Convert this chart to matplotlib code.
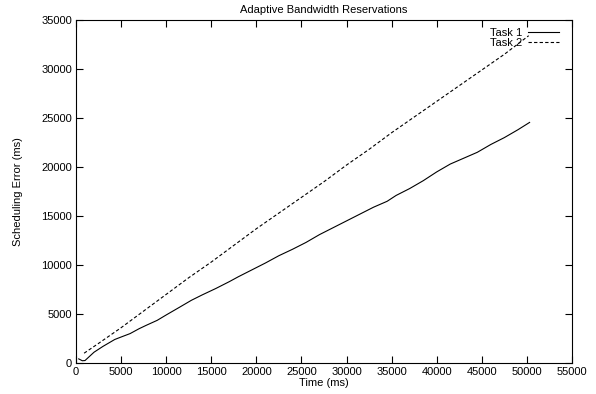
import matplotlib
matplotlib.use('Agg')
import matplotlib.pyplot as plt

plt.rcParams.update({
    'font.family': 'Liberation Sans',
    'font.size': 8,
    'axes.linewidth': 0.8,
})

# Task 1 (solid)
t1_time = [300, 700, 1000, 2000, 3000, 4300, 5000, 6000, 7000, 7800, 9000,
           10000, 11500, 12800, 14000, 15500, 17000, 18000, 19500, 21000,
           22500, 24000, 25500, 27000, 28500, 30000, 31500, 33000, 34500,
           35500, 37000, 38500, 40000, 41500, 43000, 44500, 46000, 47500,
           49000, 50300]
t1_err = [420, 230, 250, 1100, 1700, 2400, 2650, 3000, 3500, 3850, 4350,
          4900, 5700, 6400, 6950, 7600, 8300, 8800, 9500, 10200,
          10950, 11600, 12300, 13100, 13800, 14500, 15200, 15900, 16500,
          17100, 17800, 18600, 19500, 20300, 20900, 21500, 22300, 23000,
          23800, 24550]

# Task 2 (dashed)
t2_time = [900, 2500, 5000, 7500, 10000, 12500, 15000, 17500, 20000, 22500,
           25000, 27500, 30000, 32500, 35000, 37500, 40000, 42500, 45000,
           47500, 50200]
t2_err = [1000, 2000, 3600, 5300, 7000, 8700, 10300, 12000, 13700, 15300,
          16900, 18500, 20200, 21800, 23500, 25100, 26700, 28300, 29900,
          31500, 33400]

x_ticks = list(range(0, 55001, 5000))
y_ticks = list(range(0, 35001, 5000))

fig = plt.figure(figsize=(5.96, 3.94), dpi=100)
ax = fig.add_axes([0.1275, 0.0787, 0.8322, 0.8705])

ax.plot(t1_time, t1_err, color='black', linewidth=0.8, label='Task 1')
ax.plot(t2_time, t2_err, color='black', linewidth=0.8, dashes=(3, 2), label='Task 2')

ax.set_xlim(0, 55000)
ax.set_ylim(0, 35000)
ax.set_xticks(x_ticks)
ax.set_yticks(y_ticks)
ax.tick_params(direction='in', length=5, width=0.8, top=True, right=True, pad=3)

ax.set_title('Adaptive Bandwidth Reservations', fontsize=8, pad=5)
ax.set_xlabel('Time (ms)', labelpad=0.5)
ax.set_ylabel('Scheduling Error (ms)', labelpad=13)

ax.legend(loc='upper right', bbox_to_anchor=(0.974, 0.978), frameon=False,
          markerfirst=False, handlelength=2.8, handletextpad=0.5,
          labelspacing=0.0, borderpad=0, borderaxespad=0, fontsize=8)

fig.savefig('out.png', dpi=100)
